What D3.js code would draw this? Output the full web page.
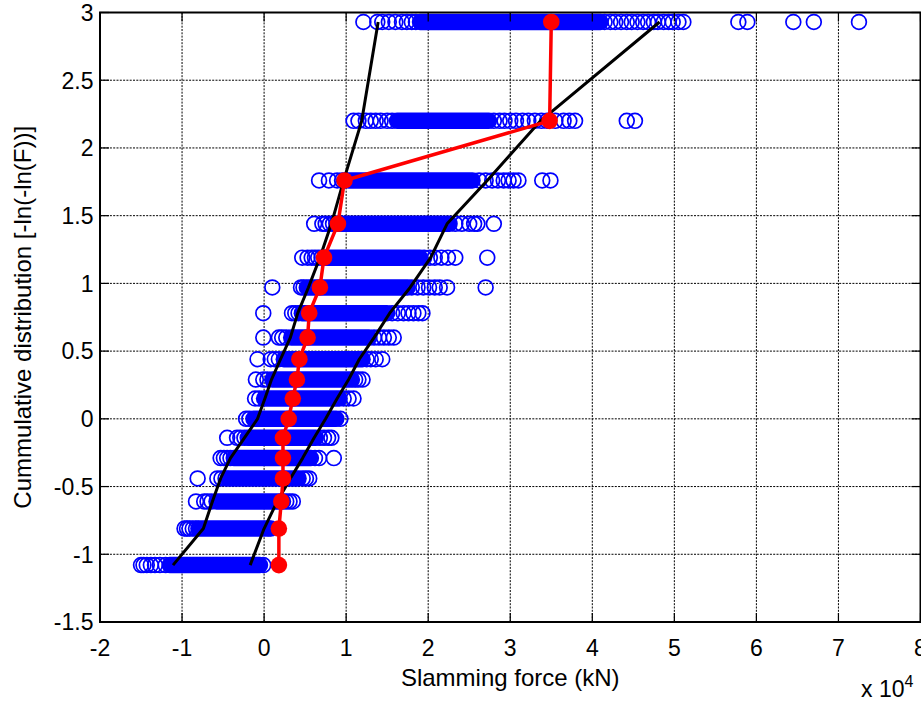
<!DOCTYPE html>
<html>
<head>
<meta charset="utf-8">
<script src="https://cdn.jsdelivr.net/npm/d3@7"></script>
<style>
  html, body { margin: 0; padding: 0; background: #fff; overflow: hidden; }
  text { font-family: "Liberation Sans", Arial, Helvetica, sans-serif; fill: #000; }
</style>
</head>
<body>
<svg id="chart" width="921" height="701"></svg>
<script>
// ---- data (x in units of 10^4 kN) ----
const levels = [-1.08, -0.81, -0.61, -0.44, -0.29, -0.14, 0.00, 0.15, 0.29, 0.44, 0.60, 0.78, 0.97, 1.19, 1.44, 1.76, 2.20, 2.93];
// dense clusters of overlapping circles per level (start/end of cluster)
const bandStart = [-1.15, -0.80, -0.58, -0.44, -0.37, -0.20, -0.13, 0.00, 0.10, 0.24, 0.33, 0.46, 0.52, 0.74, 0.88, 1.03, 1.62, 1.90];
const bandEnd   = [-0.05, 0.05, 0.23, 0.42, 0.57, 0.63, 0.88, 0.92, 1.07, 1.20, 1.28, 1.50, 1.75, 1.90, 2.26, 2.54, 2.74, 4.10];
// individually visible circles per level
const looseX = [
  [-1.50, -1.47, -1.43, -1.38, -1.33, -1.27, -1.20, -0.01],
  [-0.97, -0.94, -0.91, -0.87, -0.83, 0.08],
  [-0.83, -0.73, -0.69, -0.64, 0.27, 0.31, 0.35],
  [-0.81, -0.57, -0.52, -0.47, 0.47, 0.51, 0.55],
  [-0.53, -0.49, -0.45, -0.41, 0.62, 0.67, 0.85],
  [-0.45, -0.33, -0.29, -0.24, 0.68, 0.73, 0.78, 0.82],
  [-0.22, -0.18, 0.93],
  [-0.11, -0.06, 0.97, 1.03, 1.09],
  [-0.10, -0.01, 0.04, 1.11, 1.15, 1.20],
  [-0.08, 0.08, 0.13, 0.18, 1.25, 1.30, 1.36, 1.44],
  [-0.01, 0.18, 0.22, 0.27, 1.34, 1.40, 1.46, 1.52, 1.58],
  [-0.01, 0.34, 0.38, 0.42, 1.56, 1.63, 1.70, 1.76, 1.82, 1.88, 1.93],
  [0.10, 0.45, 0.48, 1.80, 1.87, 1.94, 2.01, 2.08, 2.14, 2.23, 2.70],
  [0.465, 0.53, 0.58, 0.62, 0.66, 0.70, 1.95, 2.02, 2.08, 2.16, 2.24, 2.33, 2.72],
  [0.61, 0.71, 0.75, 0.80, 0.84, 2.33, 2.41, 2.50, 2.56, 2.60, 2.80],
  [0.67, 0.79, 0.89, 0.95, 0.99, 2.62, 2.70, 2.78, 2.85, 2.92, 2.98, 3.04, 3.10, 3.39, 3.49],
  [1.09, 1.15, 1.24, 1.30, 1.36, 1.42, 1.50, 1.56, 2.80, 2.87, 2.93, 3.00, 3.07, 3.15, 3.22, 3.30, 3.38, 3.45, 3.55, 3.65, 3.72, 3.79, 4.42, 4.52],
  [1.21, 1.38, 1.44, 1.52, 1.60, 1.68, 1.74, 1.80, 1.85, 4.15, 4.22, 4.28, 4.35, 4.42, 4.48, 4.55, 4.62, 4.68, 4.75, 4.80, 4.87, 4.93, 4.98, 5.05, 5.11, 5.78, 5.89, 6.45, 6.70, 7.25]
];
const redX   = [0.18, 0.18, 0.21, 0.23, 0.23, 0.23, 0.30, 0.35, 0.40, 0.43, 0.53, 0.55, 0.68, 0.73, 0.90, 0.98, 3.48, 3.50];
const lowerX = [-1.11, -0.74, -0.63, -0.53, -0.41, -0.24, -0.08, 0.01, 0.09, 0.20, 0.32, 0.41, 0.54, 0.68, 0.82, 0.97, 1.19, 1.39];
const upperX = [-0.17, 0.00, 0.16, 0.32, 0.47, 0.61, 0.75, 0.89, 1.03, 1.16, 1.34, 1.53, 1.78, 2.03, 2.23, 2.72, 3.37, 4.82];
const xTicks = [-2, -1, 0, 1, 2, 3, 4, 5, 6, 7, 8];
const yTicks = [-1.5, -1, -0.5, 0, 0.5, 1, 1.5, 2, 2.5, 3];
const xTitle = "Slamming force (kN)";
const yTitle = "Cummulative distribution [-ln(-ln(F))]";

// ---- layout ----
const L = 100, R = 920.5, T = 12.5, B = 622;
const x = d3.scaleLinear().domain([-2, 8]).range([L, R]);
const y = d3.scaleLinear().domain([-1.5, 3]).range([B, T]);
const svg = d3.select("#chart");
const blue = "#0000ff", red = "#ff0000";
const cr = 7.4, csw = 1.7;

// grid
const grid = svg.append("g").attr("stroke", "#000").attr("stroke-width", 1).attr("stroke-dasharray", "2,1.3");
grid.selectAll(".gx").data(xTicks.slice(1, -1)).join("line")
  .attr("x1", d => x(d)).attr("x2", d => x(d)).attr("y1", T).attr("y2", B);
grid.selectAll(".gy").data(yTicks.slice(1, -1)).join("line")
  .attr("y1", d => y(d)).attr("y2", d => y(d)).attr("x1", L).attr("x2", R);

// dense clusters
svg.append("g").selectAll("line").data(levels).join("line")
  .attr("x1", (d, i) => x(bandStart[i])).attr("x2", (d, i) => x(bandEnd[i]))
  .attr("y1", d => y(d)).attr("y2", d => y(d))
  .attr("stroke", blue).attr("stroke-width", 2 * cr + csw).attr("stroke-linecap", "round");

// loose circles
const pts = [];
looseX.forEach((row, i) => row.forEach(v => pts.push([v, levels[i]])));
svg.append("g").selectAll("circle").data(pts).join("circle")
  .attr("cx", d => x(d[0])).attr("cy", d => y(d[1])).attr("r", cr)
  .attr("fill", "none").attr("stroke", blue).attr("stroke-width", csw);

// black bounds
const line = arr => d3.line().x((d, i) => x(arr[i])).y(d => y(d));
[lowerX, upperX].forEach(arr => {
  svg.append("path").datum(levels).attr("d", line(arr))
    .attr("fill", "none").attr("stroke", "#000").attr("stroke-width", 3).attr("stroke-linejoin", "round");
});

// red line + dots
svg.append("path").datum(levels).attr("d", line(redX))
  .attr("fill", "none").attr("stroke", red).attr("stroke-width", 3.5).attr("stroke-linejoin", "round");
svg.append("g").selectAll("circle").data(levels).join("circle")
  .attr("cx", (d, i) => x(redX[i])).attr("cy", d => y(d)).attr("r", 8.3).attr("fill", red);

// axes box
const ax = svg.append("g").attr("stroke", "#000");
ax.append("rect").attr("x", L).attr("y", T).attr("width", R - L).attr("height", B - T)
  .attr("fill", "none").attr("stroke-width", 2);
const tl = 9;
ax.selectAll(".tb").data(xTicks).join("line").attr("stroke-width", 1.2)
  .attr("x1", d => x(d)).attr("x2", d => x(d)).attr("y1", B).attr("y2", B - tl);
ax.selectAll(".tt").data(xTicks).join("line").attr("stroke-width", 1.2)
  .attr("x1", d => x(d)).attr("x2", d => x(d)).attr("y1", T).attr("y2", T + tl);
ax.selectAll(".tl").data(yTicks).join("line").attr("stroke-width", 1.2)
  .attr("y1", d => y(d)).attr("y2", d => y(d)).attr("x1", L).attr("x2", L + tl);
ax.selectAll(".tr").data(yTicks).join("line").attr("stroke-width", 1.2)
  .attr("y1", d => y(d)).attr("y2", d => y(d)).attr("x1", R).attr("x2", R - tl);

// tick labels
const fs = 23;
svg.append("g").selectAll("text").data(xTicks).join("text")
  .attr("x", d => x(d)).attr("y", 656).attr("text-anchor", "middle")
  .attr("font-size", fs).text(d => d);
svg.append("g").selectAll("text").data(yTicks).join("text")
  .attr("x", 93.5).attr("y", d => y(d)).attr("dy", "0.36em").attr("text-anchor", "end")
  .attr("font-size", fs).text(d => d);

// titles
svg.append("text").attr("x", (L + R) / 2).attr("y", 686).attr("text-anchor", "middle")
  .attr("font-size", 24).text(xTitle);
svg.append("text").attr("transform", `translate(31,${(T + B) / 2}) rotate(-90)`)
  .attr("text-anchor", "middle").attr("font-size", 24).text(yTitle);
const ex = svg.append("text").attr("x", 861).attr("y", 697).attr("font-size", 23);
ex.append("tspan").text("x 10");
ex.append("tspan").attr("font-size", 16).attr("dy", -10).text("4");
</script>
</body>
</html>
